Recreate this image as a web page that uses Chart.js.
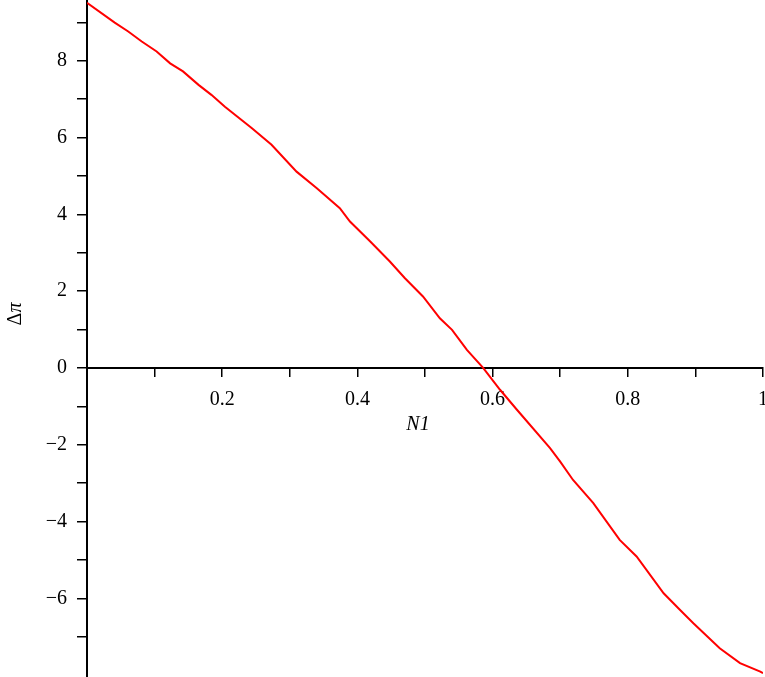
<!DOCTYPE html>
<html>
<head>
<meta charset="utf-8">
<script src="https://cdn.jsdelivr.net/npm/chart.js@4.4.1/dist/chart.umd.min.js"></script>
<style>
  html, body { margin: 0; padding: 0; background: #fff; }
  #wrap { width: 765px; height: 677px; position: relative; }
</style>
</head>
<body>
<div id="wrap"><canvas id="plot"></canvas></div>
<script>
/* Δπ contra N1 — curva leída a ojo del gráfico original */
const N1  = [0, 0.041, 0.061, 0.081, 0.103, 0.123, 0.142, 0.165, 0.184, 0.204, 0.244,
             0.273, 0.310, 0.340, 0.374, 0.389, 0.419, 0.448, 0.470, 0.497, 0.522,
             0.540, 0.562, 0.586, 0.611, 0.636, 0.685, 0.700, 0.719, 0.749, 0.788,
             0.813, 0.853, 0.877, 0.897, 0.936, 0.966, 0.996, 1.0];
const dPi = [9.51, 8.99, 8.76, 8.50, 8.24, 7.93, 7.72, 7.37, 7.11, 6.80, 6.24,
             5.81, 5.11, 4.68, 4.16, 3.81, 3.29, 2.77, 2.34, 1.86, 1.29,
             0.99, 0.47, 0.0, -0.57, -1.09, -2.09, -2.44, -2.92, -3.52, -4.48,
             -4.91, -5.87, -6.30, -6.65, -7.30, -7.69, -7.91, -7.95];

const xLabels = [0.2, 0.4, 0.6, 0.8, 1];
const yLabels = [-6, -4, -2, 0, 2, 4, 6, 8];

const serif = "'Liberation Serif', 'DejaVu Serif', serif";

/* Títulos de los ejes dibujados a mano (ejes cruzados en el origen) */
const axisTitles = {
  id: 'axisTitles',
  afterDraw(chart) {
    const c = chart.ctx;
    c.save();
    c.fillStyle = '#000';
    c.textBaseline = 'middle';
    // N1 en cursiva
    c.font = 'italic 20px ' + serif;
    c.textAlign = 'center';
    c.fillText('N1', 418, 425);
    // Δπ rotado
    c.translate(16, 314);
    c.rotate(-Math.PI / 2);
    c.textAlign = 'left';
    c.font = '20px ' + serif;
    const wD = c.measureText('Δ').width;
    c.font = 'italic 20px ' + serif;
    const wP = c.measureText('π').width;
    const x0 = -(wD + wP) / 2;
    c.font = '20px ' + serif;
    c.fillText('Δ', x0, 0);
    c.font = 'italic 20px ' + serif;
    c.fillText('π', x0 + wD, 0);
    c.restore();
  }
};

const fmt = v => (v < 0 ? '\u2212' + Math.abs(v) : String(v));

/* que las etiquetas no le roben espacio al área del gráfico */
const noPad = s => { s.paddingTop = 0; s.paddingBottom = 0; s.paddingLeft = 0; s.paddingRight = 0; };

new Chart(document.getElementById('plot'), {
  type: 'line',
  data: {
    datasets: [{
      data: N1.map((x, i) => ({ x: x, y: dPi[i] })),
      borderColor: '#ff0000',
      borderWidth: 2,
      pointRadius: 0,
      tension: 0,
      fill: false,
    }],
  },
  options: {
    responsive: true,
    maintainAspectRatio: false,
    animation: false,
    layout: { padding: { left: 0, right: 2, top: 0, bottom: 0 } },
    plugins: { legend: { display: false }, tooltip: { enabled: false } },
    scales: {
      x: {
        type: 'linear',
        position: { y: 0 },
        min: 0, max: 1,
        afterFit: noPad,
        grid: { display: true, drawOnChartArea: false, drawTicks: true, tickLength: 8, color: '#000', lineWidth: 1.5 },
        border: { display: true, color: '#000', width: 2 },
        ticks: {
          stepSize: 0.1,
          includeBounds: false,
          color: '#000',
          padding: 12,
          maxRotation: 0,
          autoSkip: false,
          font: { family: serif, size: 20 },
          callback: v => {
            const r = Math.round(v * 10) / 10;
            return xLabels.some(l => Math.abs(l - r) < 1e-6) ? String(r) : '';
          },
        },
      },
      y: {
        type: 'linear',
        position: 'left',
        min: -8.05, max: 9.58,
        afterFit: s => { noPad(s); s.width = 87; },
        grid: {
          display: true, drawOnChartArea: false, drawTicks: true, tickLength: 10, lineWidth: 1.5,
          color: ctx => (ctx.tick && ctx.tick.value < -7.5 ? 'rgba(0,0,0,0)' : '#000'),
        },
        border: { display: true, color: '#000', width: 2 },
        ticks: {
          stepSize: 1,
          includeBounds: false,
          color: '#000',
          padding: 10,
          autoSkip: false,
          font: { family: serif, size: 20 },
          callback: v => (yLabels.includes(Math.round(v)) ? fmt(Math.round(v)) : ''),
        },
      },
    },
  },
  plugins: [axisTitles],
});
</script>
</body>
</html>
